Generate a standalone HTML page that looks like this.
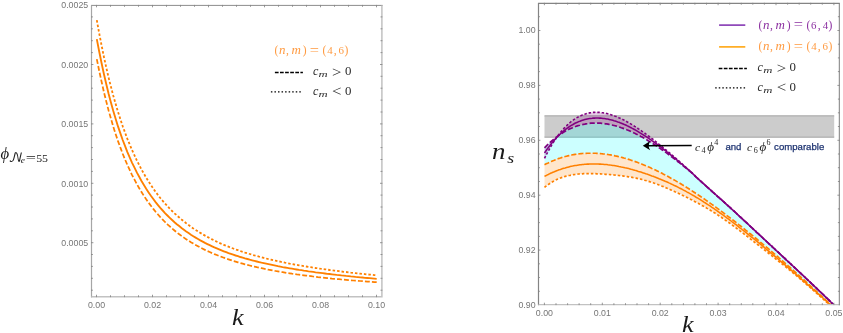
<!DOCTYPE html>
<html><head><meta charset="utf-8"><title>plots</title>
<style>
html,body{margin:0;padding:0;background:#fff}
svg{display:block}
.tk{font-family:"Liberation Sans",sans-serif;font-size:8.8px;fill:#757575}
.fr{fill:none;stroke:#c0c0c0;stroke-width:1.5}
.ti{stroke:#858585;stroke-width:0.85;fill:none}
.ms{font-family:"Liberation Serif",serif}
.mi{font-family:"Liberation Serif",serif;font-style:italic}
.sf{font-family:"Liberation Sans",sans-serif}
</style></head><body>
<svg width="843" height="333" viewBox="0 0 843 333">
<rect width="843" height="333" fill="#fff"/>

<g id="left">
<path d="M96.8,59.1 L99.2,70.9 L101.6,81.8 L103.9,92.0 L106.3,101.6 L108.6,110.5 L111.0,118.9 L113.3,126.8 L115.7,134.2 L118.0,141.1 L120.4,147.6 L122.7,153.8 L125.1,159.6 L127.4,165.0 L129.8,170.2 L132.1,175.1 L134.5,179.7 L136.8,184.0 L139.2,188.2 L141.5,192.1 L143.9,195.8 L146.2,199.3 L148.6,202.7 L150.9,205.8 L153.3,208.9 L155.6,211.8 L158.0,214.5 L160.3,217.1 L162.7,219.6 L165.0,222.0 L167.4,224.3 L169.8,226.4 L172.1,228.5 L174.5,230.5 L176.8,232.4 L179.2,234.2 L181.5,235.9 L183.9,237.6 L186.2,239.2 L188.6,240.7 L190.9,242.2 L193.3,243.6 L195.6,244.9 L198.0,246.2 L200.3,247.5 L202.7,248.7 L205.0,249.9 L207.4,251.0 L209.7,252.0 L212.1,253.1 L214.4,254.1 L216.8,255.0 L219.1,256.0 L221.5,256.8 L223.8,257.7 L226.2,258.5 L228.5,259.3 L230.9,260.1 L233.2,260.9 L235.6,261.6 L238.0,262.3 L240.3,263.0 L242.7,263.6 L245.0,264.3 L247.4,264.9 L249.7,265.5 L252.1,266.1 L254.4,266.6 L256.8,267.2 L259.1,267.7 L261.5,268.2 L263.8,268.7 L266.2,269.2 L268.5,269.7 L270.9,270.1 L273.2,270.6 L275.6,271.0 L277.9,271.4 L280.3,271.8 L282.6,272.2 L285.0,272.6 L287.3,273.0 L289.7,273.3 L292.0,273.7 L294.4,274.0 L296.7,274.4 L299.1,274.7 L301.4,275.0 L303.8,275.3 L306.1,275.6 L308.5,275.9 L310.9,276.2 L313.2,276.5 L315.6,276.8 L317.9,277.1 L320.3,277.3 L322.6,277.6 L325.0,277.8 L327.3,278.1 L329.7,278.3 L332.0,278.6 L334.4,278.8 L336.7,279.0 L339.1,279.2 L341.4,279.5 L343.8,279.7 L346.1,279.9 L348.5,280.1 L350.8,280.3 L353.2,280.5 L355.5,280.7 L357.9,280.8 L360.2,281.0 L362.6,281.2 L364.9,281.4 L367.3,281.6 L369.6,281.7 L372.0,281.9 L374.3,282.1 L376.7,282.2" fill="none" stroke="#ff8000" stroke-width="1.75" stroke-dasharray="4.9 2.1"/>
<path d="M96.8,20.2 L99.2,33.3 L101.6,45.5 L103.9,56.9 L106.3,67.6 L108.6,77.6 L111.0,87.0 L113.3,95.8 L115.7,104.1 L118.0,111.9 L120.4,119.2 L122.7,126.2 L125.1,132.7 L127.4,138.9 L129.8,144.7 L132.1,150.2 L134.5,155.4 L136.8,160.4 L139.2,165.0 L141.5,169.5 L143.9,173.7 L146.2,177.7 L148.6,181.5 L150.9,185.1 L153.3,188.6 L155.6,191.9 L158.0,195.0 L160.3,198.0 L162.7,200.8 L165.0,203.5 L167.4,206.1 L169.8,208.6 L172.1,211.0 L174.5,213.3 L176.8,215.4 L179.2,217.5 L181.5,219.5 L183.9,221.4 L186.2,223.3 L188.6,225.1 L190.9,226.7 L193.3,228.4 L195.6,229.9 L198.0,231.4 L200.3,232.9 L202.7,234.3 L205.0,235.6 L207.4,236.9 L209.7,238.2 L212.1,239.4 L214.4,240.5 L216.8,241.7 L219.1,242.8 L221.5,243.8 L223.8,244.8 L226.2,245.8 L228.5,246.7 L230.9,247.7 L233.2,248.5 L235.6,249.4 L238.0,250.2 L240.3,251.0 L242.7,251.8 L245.0,252.6 L247.4,253.3 L249.7,254.0 L252.1,254.7 L254.4,255.4 L256.8,256.0 L259.1,256.7 L261.5,257.3 L263.8,257.9 L266.2,258.5 L268.5,259.1 L270.9,259.6 L273.2,260.2 L275.6,260.7 L277.9,261.2 L280.3,261.7 L282.6,262.2 L285.0,262.7 L287.3,263.1 L289.7,263.6 L292.0,264.0 L294.4,264.5 L296.7,264.9 L299.1,265.3 L301.4,265.7 L303.8,266.1 L306.1,266.5 L308.5,266.9 L310.9,267.2 L313.2,267.6 L315.6,268.0 L317.9,268.3 L320.3,268.7 L322.6,269.0 L325.0,269.3 L327.3,269.6 L329.7,270.0 L332.0,270.3 L334.4,270.6 L336.7,270.9 L339.1,271.2 L341.4,271.5 L343.8,271.8 L346.1,272.0 L348.5,272.3 L350.8,272.6 L353.2,272.8 L355.5,273.1 L357.9,273.4 L360.2,273.6 L362.6,273.9 L364.9,274.1 L367.3,274.4 L369.6,274.6 L372.0,274.8 L374.3,275.1 L376.7,275.3" fill="none" stroke="#ff8000" stroke-width="1.8" stroke-dasharray="2.5 2.0"/>
<path d="M96.8,39.1 L99.2,51.5 L101.6,63.2 L103.9,74.0 L106.3,84.2 L108.6,93.8 L111.0,102.7 L113.3,111.1 L115.7,119.0 L118.0,126.4 L120.4,133.4 L122.7,140.0 L125.1,146.2 L127.4,152.1 L129.8,157.6 L132.1,162.8 L134.5,167.7 L136.8,172.4 L139.2,176.8 L141.5,181.0 L143.9,185.0 L146.2,188.8 L148.6,192.4 L150.9,195.8 L153.3,199.0 L155.6,202.1 L158.0,205.1 L160.3,207.9 L162.7,210.5 L165.0,213.1 L167.4,215.5 L169.8,217.8 L172.1,220.0 L174.5,222.2 L176.8,224.2 L179.2,226.1 L181.5,228.0 L183.9,229.8 L186.2,231.5 L188.6,233.1 L190.9,234.7 L193.3,236.2 L195.6,237.6 L198.0,239.0 L200.3,240.4 L202.7,241.6 L205.0,242.9 L207.4,244.1 L209.7,245.2 L212.1,246.3 L214.4,247.4 L216.8,248.4 L219.1,249.4 L221.5,250.4 L223.8,251.3 L226.2,252.2 L228.5,253.1 L230.9,253.9 L233.2,254.7 L235.6,255.5 L238.0,256.2 L240.3,257.0 L242.7,257.7 L245.0,258.4 L247.4,259.0 L249.7,259.7 L252.1,260.3 L254.4,260.9 L256.8,261.5 L259.1,262.1 L261.5,262.7 L263.8,263.2 L266.2,263.7 L268.5,264.2 L270.9,264.7 L273.2,265.2 L275.6,265.7 L277.9,266.2 L280.3,266.6 L282.6,267.1 L285.0,267.5 L287.3,267.9 L289.7,268.3 L292.0,268.7 L294.4,269.1 L296.7,269.5 L299.1,269.9 L301.4,270.2 L303.8,270.6 L306.1,270.9 L308.5,271.3 L310.9,271.6 L313.2,271.9 L315.6,272.3 L317.9,272.6 L320.3,272.9 L322.6,273.2 L325.0,273.5 L327.3,273.8 L329.7,274.0 L332.0,274.3 L334.4,274.6 L336.7,274.9 L339.1,275.1 L341.4,275.4 L343.8,275.6 L346.1,275.9 L348.5,276.1 L350.8,276.4 L353.2,276.6 L355.5,276.9 L357.9,277.1 L360.2,277.3 L362.6,277.5 L364.9,277.8 L367.3,278.0 L369.6,278.2 L372.0,278.4 L374.3,278.6 L376.7,278.8" fill="none" stroke="#ff8000" stroke-width="1.85"/>
<path d="M91.0,5.4H382.65" stroke="#8c8c8c" stroke-width="1" fill="none"/>
<path d="M91.5,5.4V297.4" stroke="#a6a6a6" stroke-width="1.2" fill="none"/>
<path d="M91.5,296.65H382.65M381.9,5.4V296.65" stroke="#c2c2c2" stroke-width="1.5" fill="none"/>
<path class="ti" d="M96.5,297.15v-2.4M96.5,4.9v2.4M110.5,297.15v-1.9M110.5,4.9v1.9M124.5,297.15v-1.9M124.5,4.9v1.9M138.5,297.15v-1.9M138.5,4.9v1.9M152.5,297.15v-2.4M152.5,4.9v2.4M166.5,297.15v-1.9M166.5,4.9v1.9M180.5,297.15v-1.9M180.5,4.9v1.9M194.5,297.15v-1.9M194.5,4.9v1.9M208.5,297.15v-2.4M208.5,4.9v2.4M222.5,297.15v-1.9M222.5,4.9v1.9M236.5,297.15v-1.9M236.5,4.9v1.9M250.5,297.15v-1.9M250.5,4.9v1.9M264.5,297.15v-2.4M264.5,4.9v2.4M278.5,297.15v-1.9M278.5,4.9v1.9M292.5,297.15v-1.9M292.5,4.9v1.9M306.5,297.15v-1.9M306.5,4.9v1.9M320.5,297.15v-2.4M320.5,4.9v2.4M334.5,297.15v-1.9M334.5,4.9v1.9M348.5,297.15v-1.9M348.5,4.9v1.9M362.5,297.15v-1.9M362.5,4.9v1.9M376.5,297.15v-2.4M376.5,4.9v2.4M91.0,290.2h1.9M382.4,290.2h-1.9M91.0,278.3h1.9M382.4,278.3h-1.9M91.0,266.4h1.9M382.4,266.4h-1.9M91.0,254.5h1.9M382.4,254.5h-1.9M91.0,242.7h2.4M382.4,242.7h-2.4M91.0,230.8h1.9M382.4,230.8h-1.9M91.0,218.9h1.9M382.4,218.9h-1.9M91.0,207.0h1.9M382.4,207.0h-1.9M91.0,195.1h1.9M382.4,195.1h-1.9M91.0,183.3h2.4M382.4,183.3h-2.4M91.0,171.4h1.9M382.4,171.4h-1.9M91.0,159.5h1.9M382.4,159.5h-1.9M91.0,147.6h1.9M382.4,147.6h-1.9M91.0,135.7h1.9M382.4,135.7h-1.9M91.0,123.9h2.4M382.4,123.9h-2.4M91.0,112.0h1.9M382.4,112.0h-1.9M91.0,100.1h1.9M382.4,100.1h-1.9M91.0,88.2h1.9M382.4,88.2h-1.9M91.0,76.3h1.9M382.4,76.3h-1.9M91.0,64.5h2.4M382.4,64.5h-2.4M91.0,52.6h1.9M382.4,52.6h-1.9M91.0,40.7h1.9M382.4,40.7h-1.9M91.0,28.8h1.9M382.4,28.8h-1.9M91.0,16.9h1.9M382.4,16.9h-1.9"/>
<text class="tk" x="96.5" y="308.2" text-anchor="middle">0.00</text>
<text class="tk" x="152.5" y="308.2" text-anchor="middle">0.02</text>
<text class="tk" x="208.5" y="308.2" text-anchor="middle">0.04</text>
<text class="tk" x="264.5" y="308.2" text-anchor="middle">0.06</text>
<text class="tk" x="320.5" y="308.2" text-anchor="middle">0.08</text>
<text class="tk" x="376.5" y="308.2" text-anchor="middle">0.10</text>
<text class="tk" x="88.2" y="245.8" text-anchor="end">0.0005</text>
<text class="tk" x="88.2" y="186.5" text-anchor="end">0.0010</text>
<text class="tk" x="88.2" y="127.1" text-anchor="end">0.0015</text>
<text class="tk" x="88.2" y="67.7" text-anchor="end">0.0020</text>
<text class="tk" x="88.2" y="8.3" text-anchor="end">0.0025</text>
<text class="mi" transform="translate(232.12,324.70) scale(1.1,1)" font-size="23.8" fill="#1a1a1a">k</text>
<text class="mi" transform="translate(0.48,159.00) scale(1.05,1)" font-size="15.9" fill="#1a1a1a">ϕ</text>
<text x="8.6" y="161.9" font-size="13" fill="#1a1a1a" font-family="'DejaVu Math TeX Gyre','DejaVu Serif',serif">𝒩</text>
<text class="mi" transform="translate(20.86,163.40) scale(1.1,1)" font-size="8.6" fill="#1a1a1a">e</text>
<text class="ms" transform="translate(25.63,162.00) scale(1.45,1)" font-size="12.5" fill="#1a1a1a">=</text>
<text class="ms" transform="translate(36.32,161.90) scale(1.05,1)" font-size="11.3" fill="#1a1a1a">5</text><text class="ms" transform="translate(42.12,161.90) scale(1.05,1)" font-size="11.3" fill="#1a1a1a">5</text>
<text class="ms" x="274.52" y="54.30" font-size="11.5" fill="#ff9a40">(</text><text class="mi" transform="translate(279.09,54.10) scale(1.12,1)" font-size="11.6" fill="#ff9a40">n</text><text class="ms" x="285.99" y="54.10" font-size="11.6" fill="#ff9a40">,</text><text class="mi" transform="translate(291.45,54.10) scale(1.12,1)" font-size="11.6" fill="#ff9a40">m</text><text class="ms" x="302.65" y="54.30" font-size="11.5" fill="#ff9a40">)</text><text class="ms" transform="translate(309.79,54.90) scale(1.2,1)" font-size="13.6" fill="#ff9a40">=</text><text class="ms" x="322.52" y="54.30" font-size="11.5" fill="#ff9a40">(</text><text class="ms" x="327.15" y="54.10" font-size="10.9" fill="#ff9a40">4</text><text class="ms" x="333.69" y="54.10" font-size="11.6" fill="#ff9a40">,</text><text class="ms" x="338.60" y="54.10" font-size="10.9" fill="#ff9a40">6</text><text class="ms" x="344.55" y="54.30" font-size="11.5" fill="#ff9a40">)</text>
<path d="M274.9,72.5H302.9" stroke="#000" stroke-width="1.7" stroke-dasharray="3.7 1.4" fill="none"/>
<text class="mi" transform="translate(312.98,75.30) scale(1.05,1)" font-size="11.6" fill="#2e2e2e">c</text><text class="mi" transform="translate(318.55,77.10) scale(1.55,1)" font-size="8.2" fill="#2e2e2e">m</text><text class="ms" transform="translate(332.04,76.60) scale(1.15,1)" font-size="14.6" fill="#2e2e2e">&gt;</text><text class="ms" transform="translate(344.88,75.30) scale(1.1,1)" font-size="11.7" fill="#2e2e2e">0</text>
<path d="M270.9,91.9H301.5" stroke="#000" stroke-width="1.3" stroke-dasharray="1.5 2.05" fill="none"/>
<text class="mi" transform="translate(312.98,94.80) scale(1.05,1)" font-size="11.6" fill="#2e2e2e">c</text><text class="mi" transform="translate(318.55,96.60) scale(1.55,1)" font-size="8.2" fill="#2e2e2e">m</text><text class="ms" transform="translate(332.06,96.10) scale(1.15,1)" font-size="14.6" fill="#2e2e2e">&lt;</text><text class="ms" transform="translate(344.88,94.80) scale(1.1,1)" font-size="11.7" fill="#2e2e2e">0</text>
</g>
<g id="right">
<clipPath id="rc"><rect x="538.5" y="3.3" width="300.8" height="301.3"/></clipPath>
<g clip-path="url(#rc)">
<rect x="544.5" y="115.6" width="289.7" height="22.0" fill="#cccccc"/>
<path d="M544.5,115.9H834.2M544.5,137.2H834.2" stroke="#b0b0b0" stroke-width="1.3" fill="none"/>
<path d="M544.5,147.9 L545.7,146.6 L546.9,145.4 L548.2,144.2 L549.4,143.0 L550.6,141.9 L551.8,140.8 L553.0,139.8 L554.3,138.8 L555.5,137.8 L556.7,136.9 L557.9,136.0 L559.1,135.1 L560.4,134.3 L561.6,133.5 L562.8,132.7 L564.0,131.9 L565.2,131.2 L566.5,130.6 L567.7,129.9 L568.9,129.3 L570.1,128.7 L571.3,128.2 L572.6,127.7 L573.8,127.2 L575.0,126.7 L576.2,126.3 L577.4,125.9 L578.7,125.5 L579.9,125.2 L581.1,124.8 L582.3,124.6 L583.5,124.3 L584.7,124.1 L586.0,123.8 L587.2,123.7 L588.4,123.5 L589.6,123.4 L590.8,123.2 L592.1,123.2 L593.3,123.1 L594.5,123.1 L595.7,123.0 L596.9,123.1 L598.2,123.1 L599.4,123.1 L600.6,123.2 L601.8,123.3 L603.0,123.4 L604.3,123.6 L605.5,123.8 L606.7,123.9 L607.9,124.1 L609.1,124.4 L610.4,124.6 L611.6,124.9 L612.8,125.2 L614.0,125.5 L615.2,125.8 L616.5,126.1 L617.7,126.5 L618.9,126.9 L620.1,127.3 L621.3,127.7 L622.6,128.1 L623.8,128.6 L625.0,129.0 L626.2,129.5 L627.4,130.0 L628.7,130.5 L629.9,131.0 L631.1,131.6 L632.3,132.1 L633.5,132.7 L634.8,133.3 L636.0,133.9 L637.2,134.5 L638.4,135.2 L639.6,135.8 L640.9,136.5 L642.1,137.1 L643.3,137.8 L644.5,138.5 L645.7,139.2 L647.0,139.9 L648.2,140.7 L649.4,141.4 L650.6,142.2 L651.8,142.9 L653.1,143.7 L654.3,144.5 L655.5,145.3 L656.7,146.1 L657.9,146.9 L659.1,147.8 L660.4,148.6 L661.6,149.5 L662.8,150.3 L664.0,151.2 L665.2,152.1 L666.5,152.9 L667.7,153.8 L668.9,154.7 L670.1,155.7 L671.3,156.6 L672.6,157.5 L673.8,158.4 L675.0,159.4 L676.2,160.3 L677.4,161.3 L678.7,162.2 L679.9,163.2 L681.1,164.1 L682.3,165.1 L683.5,166.1 L684.8,167.1 L686.0,168.0 L687.2,169.0 L688.4,170.0 L689.6,171.0 L690.9,172.1 L692.1,173.2 L693.3,174.3 L694.5,175.4 L695.7,176.6 L697.0,177.8 L698.2,178.9 L699.4,180.0 L700.6,181.1 L701.8,182.2 L703.1,183.3 L704.3,184.4 L705.5,185.5 L706.7,186.6 L707.9,187.7 L709.2,188.8 L710.4,189.9 L711.6,191.0 L712.8,192.1 L714.0,193.2 L715.3,194.3 L716.5,195.4 L717.7,196.5 L718.9,197.5 L720.1,198.6 L721.4,199.7 L722.6,200.8 L723.8,201.9 L725.0,203.0 L726.2,204.1 L727.4,205.2 L728.7,206.3 L729.9,207.4 L731.1,208.5 L732.3,209.6 L733.5,210.7 L734.8,211.8 L736.0,213.0 L737.2,214.1 L738.4,215.2 L739.6,216.4 L740.9,217.5 L742.1,218.6 L743.3,219.8 L744.5,220.9 L745.7,222.0 L747.0,223.2 L748.2,224.3 L749.4,225.5 L750.6,226.6 L751.8,227.7 L753.1,228.9 L754.3,230.0 L755.5,231.1 L756.7,232.3 L757.9,233.4 L759.2,234.6 L760.4,235.7 L761.6,236.8 L762.8,238.0 L764.0,239.1 L765.3,240.2 L766.5,241.4 L767.7,242.5 L768.9,243.7 L770.1,244.8 L771.4,245.9 L772.6,247.1 L773.8,248.2 L775.0,249.3 L776.2,250.5 L777.5,251.6 L778.7,252.7 L779.9,253.9 L781.1,255.0 L782.3,256.2 L783.6,257.3 L784.8,258.4 L786.0,259.6 L787.2,260.7 L788.4,261.8 L789.7,263.0 L790.9,264.1 L792.1,265.3 L793.3,266.4 L794.5,267.5 L795.8,268.7 L797.0,269.8 L798.2,271.0 L799.4,272.1 L800.6,273.2 L801.8,274.4 L803.1,275.5 L804.3,276.7 L805.5,277.8 L806.7,279.0 L807.9,280.1 L809.2,281.3 L810.4,282.4 L811.6,283.6 L812.8,284.7 L814.0,285.9 L815.3,287.1 L816.5,288.2 L817.7,289.4 L818.9,290.5 L820.1,291.7 L821.4,292.9 L822.6,294.0 L823.8,295.2 L825.0,296.4 L826.2,297.6 L827.5,298.7 L828.7,299.9 L829.9,301.1 L831.1,302.3 L832.3,303.5 L833.6,304.7 L834.8,305.9 L836.0,307.1 L836.0,309.8 L834.8,308.6 L833.6,307.4 L832.3,306.3 L831.1,305.1 L829.9,303.9 L828.7,302.8 L827.5,301.6 L826.2,300.5 L825.0,299.3 L823.8,298.2 L822.6,297.1 L821.4,295.9 L820.1,294.8 L818.9,293.7 L817.7,292.5 L816.5,291.4 L815.3,290.3 L814.0,289.1 L812.8,288.0 L811.6,286.9 L810.4,285.8 L809.2,284.7 L807.9,283.6 L806.7,282.4 L805.5,281.3 L804.3,280.2 L803.1,279.1 L801.8,278.0 L800.6,276.9 L799.4,275.8 L798.2,274.7 L797.0,273.7 L795.8,272.6 L794.5,271.5 L793.3,270.4 L792.1,269.3 L790.9,268.2 L789.7,267.2 L788.4,266.1 L787.2,265.0 L786.0,263.9 L784.8,262.9 L783.6,261.8 L782.3,260.7 L781.1,259.7 L779.9,258.6 L778.7,257.6 L777.5,256.5 L776.2,255.5 L775.0,254.4 L773.8,253.4 L772.6,252.3 L771.4,251.3 L770.1,250.3 L768.9,249.2 L767.7,248.2 L766.5,247.2 L765.3,246.1 L764.0,245.1 L762.8,244.1 L761.6,243.1 L760.4,242.1 L759.2,241.0 L757.9,240.0 L756.7,239.0 L755.5,238.0 L754.3,237.0 L753.1,236.0 L751.8,235.0 L750.6,234.0 L749.4,233.1 L748.2,232.1 L747.0,231.1 L745.7,230.1 L744.5,229.1 L743.3,228.2 L742.1,227.2 L740.9,226.2 L739.6,225.3 L738.4,224.3 L737.2,223.4 L736.0,222.4 L734.8,221.5 L733.5,220.5 L732.3,219.6 L731.1,218.6 L729.9,217.7 L728.7,216.8 L727.4,215.8 L726.2,214.9 L725.0,214.0 L723.8,213.1 L722.6,212.2 L721.4,211.3 L720.1,210.4 L718.9,209.5 L717.7,208.6 L716.5,207.7 L715.3,206.8 L714.0,205.9 L712.8,205.0 L711.6,204.2 L710.4,203.3 L709.2,202.4 L707.9,201.6 L706.7,200.7 L705.5,199.9 L704.3,199.0 L703.1,198.2 L701.8,197.4 L700.6,196.5 L699.4,195.7 L698.2,194.9 L697.0,194.1 L695.7,193.3 L694.5,192.5 L693.3,191.7 L692.1,190.9 L690.9,190.1 L689.6,189.3 L688.4,188.5 L687.2,187.8 L686.0,187.0 L684.8,186.3 L683.5,185.5 L682.3,184.8 L681.1,184.0 L679.9,183.3 L678.7,182.6 L677.4,181.9 L676.2,181.1 L675.0,180.4 L673.8,179.7 L672.6,179.0 L671.3,178.4 L670.1,177.7 L668.9,177.0 L667.7,176.3 L666.5,175.7 L665.2,175.0 L664.0,174.4 L662.8,173.8 L661.6,173.1 L660.4,172.5 L659.1,171.9 L657.9,171.3 L656.7,170.7 L655.5,170.1 L654.3,169.5 L653.1,169.0 L651.8,168.4 L650.6,167.8 L649.4,167.3 L648.2,166.8 L647.0,166.2 L645.7,165.7 L644.5,165.2 L643.3,164.7 L642.1,164.2 L640.9,163.7 L639.6,163.2 L638.4,162.8 L637.2,162.3 L636.0,161.9 L634.8,161.4 L633.5,161.0 L632.3,160.6 L631.1,160.2 L629.9,159.8 L628.7,159.4 L627.4,159.0 L626.2,158.7 L625.0,158.3 L623.8,158.0 L622.6,157.6 L621.3,157.3 L620.1,157.0 L618.9,156.7 L617.7,156.4 L616.5,156.1 L615.2,155.9 L614.0,155.6 L612.8,155.4 L611.6,155.1 L610.4,154.9 L609.1,154.7 L607.9,154.5 L606.7,154.3 L605.5,154.2 L604.3,154.0 L603.0,153.9 L601.8,153.7 L600.6,153.6 L599.4,153.5 L598.2,153.4 L596.9,153.4 L595.7,153.3 L594.5,153.2 L593.3,153.2 L592.1,153.2 L590.8,153.2 L589.6,153.2 L588.4,153.2 L587.2,153.2 L586.0,153.3 L584.7,153.3 L583.5,153.4 L582.3,153.5 L581.1,153.6 L579.9,153.8 L578.7,153.9 L577.4,154.0 L576.2,154.2 L575.0,154.4 L573.8,154.6 L572.6,154.8 L571.3,155.1 L570.1,155.3 L568.9,155.6 L567.7,155.9 L566.5,156.2 L565.2,156.5 L564.0,156.8 L562.8,157.2 L561.6,157.6 L560.4,158.0 L559.1,158.4 L557.9,158.8 L556.7,159.2 L555.5,159.7 L554.3,160.2 L553.0,160.7 L551.8,161.2 L550.6,161.7 L549.4,162.3 L548.2,162.9 L546.9,163.5 L545.7,164.1 L544.5,164.7Z" fill="#00ffff" fill-opacity="0.2" stroke="none"/>
<path d="M544.5,164.7 L545.7,164.1 L546.9,163.5 L548.2,162.9 L549.4,162.3 L550.6,161.7 L551.8,161.2 L553.0,160.7 L554.3,160.2 L555.5,159.7 L556.7,159.2 L557.9,158.8 L559.1,158.4 L560.4,158.0 L561.6,157.6 L562.8,157.2 L564.0,156.8 L565.2,156.5 L566.5,156.2 L567.7,155.9 L568.9,155.6 L570.1,155.3 L571.3,155.1 L572.6,154.8 L573.8,154.6 L575.0,154.4 L576.2,154.2 L577.4,154.0 L578.7,153.9 L579.9,153.8 L581.1,153.6 L582.3,153.5 L583.5,153.4 L584.7,153.3 L586.0,153.3 L587.2,153.2 L588.4,153.2 L589.6,153.2 L590.8,153.2 L592.1,153.2 L593.3,153.2 L594.5,153.2 L595.7,153.3 L596.9,153.4 L598.2,153.4 L599.4,153.5 L600.6,153.6 L601.8,153.7 L603.0,153.9 L604.3,154.0 L605.5,154.2 L606.7,154.3 L607.9,154.5 L609.1,154.7 L610.4,154.9 L611.6,155.1 L612.8,155.4 L614.0,155.6 L615.2,155.9 L616.5,156.1 L617.7,156.4 L618.9,156.7 L620.1,157.0 L621.3,157.3 L622.6,157.6 L623.8,158.0 L625.0,158.3 L626.2,158.7 L627.4,159.0 L628.7,159.4 L629.9,159.8 L631.1,160.2 L632.3,160.6 L633.5,161.0 L634.8,161.4 L636.0,161.9 L637.2,162.3 L638.4,162.8 L639.6,163.2 L640.9,163.7 L642.1,164.2 L643.3,164.7 L644.5,165.2 L645.7,165.7 L647.0,166.2 L648.2,166.8 L649.4,167.3 L650.6,167.8 L651.8,168.4 L653.1,169.0 L654.3,169.5 L655.5,170.1 L656.7,170.7 L657.9,171.3 L659.1,171.9 L660.4,172.5 L661.6,173.1 L662.8,173.8 L664.0,174.4 L665.2,175.0 L666.5,175.7 L667.7,176.3 L668.9,177.0 L670.1,177.7 L671.3,178.4 L672.6,179.0 L673.8,179.7 L675.0,180.4 L676.2,181.1 L677.4,181.9 L678.7,182.6 L679.9,183.3 L681.1,184.0 L682.3,184.8 L683.5,185.5 L684.8,186.3 L686.0,187.0 L687.2,187.8 L688.4,188.5 L689.6,189.3 L690.9,190.1 L692.1,190.9 L693.3,191.7 L694.5,192.5 L695.7,193.3 L697.0,194.1 L698.2,194.9 L699.4,195.7 L700.6,196.5 L701.8,197.4 L703.1,198.2 L704.3,199.0 L705.5,199.9 L706.7,200.7 L707.9,201.6 L709.2,202.4 L710.4,203.3 L711.6,204.2 L712.8,205.0 L714.0,205.9 L715.3,206.8 L716.5,207.7 L717.7,208.6 L718.9,209.5 L720.1,210.4 L721.4,211.3 L722.6,212.2 L723.8,213.1 L725.0,214.0 L726.2,214.9 L727.4,215.8 L728.7,216.8 L729.9,217.7 L731.1,218.6 L732.3,219.6 L733.5,220.5 L734.8,221.5 L736.0,222.4 L737.2,223.4 L738.4,224.3 L739.6,225.3 L740.9,226.2 L742.1,227.2 L743.3,228.2 L744.5,229.1 L745.7,230.1 L747.0,231.1 L748.2,232.1 L749.4,233.1 L750.6,234.0 L751.8,235.0 L753.1,236.0 L754.3,237.0 L755.5,238.0 L756.7,239.0 L757.9,240.0 L759.2,241.0 L760.4,242.1 L761.6,243.1 L762.8,244.1 L764.0,245.1 L765.3,246.1 L766.5,247.2 L767.7,248.2 L768.9,249.2 L770.1,250.3 L771.4,251.3 L772.6,252.3 L773.8,253.4 L775.0,254.4 L776.2,255.5 L777.5,256.5 L778.7,257.6 L779.9,258.6 L781.1,259.7 L782.3,260.7 L783.6,261.8 L784.8,262.9 L786.0,263.9 L787.2,265.0 L788.4,266.1 L789.7,267.2 L790.9,268.2 L792.1,269.3 L793.3,270.4 L794.5,271.5 L795.8,272.6 L797.0,273.7 L798.2,274.7 L799.4,275.8 L800.6,276.9 L801.8,278.0 L803.1,279.1 L804.3,280.2 L805.5,281.3 L806.7,282.4 L807.9,283.6 L809.2,284.7 L810.4,285.8 L811.6,286.9 L812.8,288.0 L814.0,289.1 L815.3,290.3 L816.5,291.4 L817.7,292.5 L818.9,293.7 L820.1,294.8 L821.4,295.9 L822.6,297.1 L823.8,298.2 L825.0,299.3 L826.2,300.5 L827.5,301.6 L828.7,302.8 L829.9,303.9 L831.1,305.1 L832.3,306.3 L833.6,307.4 L834.8,308.6 L836.0,309.8 L836.0,310.3 L834.8,309.3 L833.6,308.2 L832.3,307.2 L831.1,306.1 L829.9,305.0 L828.7,304.0 L827.5,302.9 L826.2,301.8 L825.0,300.7 L823.8,299.6 L822.6,298.6 L821.4,297.5 L820.1,296.4 L818.9,295.3 L817.7,294.2 L816.5,293.1 L815.3,292.0 L814.0,290.9 L812.8,289.9 L811.6,288.8 L810.4,287.7 L809.2,286.6 L807.9,285.6 L806.7,284.5 L805.5,283.5 L804.3,282.4 L803.1,281.4 L801.8,280.3 L800.6,279.3 L799.4,278.2 L798.2,277.2 L797.0,276.2 L795.8,275.2 L794.5,274.1 L793.3,273.1 L792.1,272.1 L790.9,271.1 L789.7,270.1 L788.4,269.1 L787.2,268.1 L786.0,267.1 L784.8,266.1 L783.6,265.2 L782.3,264.2 L781.1,263.2 L779.9,262.2 L778.7,261.3 L777.5,260.3 L776.2,259.3 L775.0,258.3 L773.8,257.4 L772.6,256.4 L771.4,255.4 L770.1,254.5 L768.9,253.5 L767.7,252.5 L766.5,251.6 L765.3,250.6 L764.0,249.6 L762.8,248.7 L761.6,247.7 L760.4,246.8 L759.2,245.8 L757.9,244.8 L756.7,243.9 L755.5,242.9 L754.3,242.0 L753.1,241.0 L751.8,240.0 L750.6,239.1 L749.4,238.1 L748.2,237.2 L747.0,236.2 L745.7,235.3 L744.5,234.4 L743.3,233.4 L742.1,232.5 L740.9,231.5 L739.6,230.6 L738.4,229.7 L737.2,228.8 L736.0,227.8 L734.8,226.9 L733.5,226.0 L732.3,225.1 L731.1,224.2 L729.9,223.3 L728.7,222.5 L727.4,221.6 L726.2,220.7 L725.0,219.9 L723.8,219.0 L722.6,218.2 L721.4,217.3 L720.1,216.5 L718.9,215.7 L717.7,214.9 L716.5,214.1 L715.3,213.3 L714.0,212.6 L712.8,211.8 L711.6,211.1 L710.4,210.3 L709.2,209.6 L707.9,208.9 L706.7,208.1 L705.5,207.4 L704.3,206.7 L703.1,206.0 L701.8,205.4 L700.6,204.7 L699.4,204.0 L698.2,203.3 L697.0,202.7 L695.7,202.0 L694.5,201.4 L693.3,200.8 L692.1,200.1 L690.9,199.5 L689.6,198.9 L688.4,198.2 L687.2,197.6 L686.0,197.0 L684.8,196.4 L683.5,195.8 L682.3,195.2 L681.1,194.6 L679.9,194.1 L678.7,193.5 L677.4,192.9 L676.2,192.3 L675.0,191.8 L673.8,191.2 L672.6,190.6 L671.3,190.1 L670.1,189.6 L668.9,189.0 L667.7,188.5 L666.5,188.0 L665.2,187.5 L664.0,186.9 L662.8,186.4 L661.6,186.0 L660.4,185.5 L659.1,185.0 L657.9,184.5 L656.7,184.1 L655.5,183.6 L654.3,183.2 L653.1,182.8 L651.8,182.4 L650.6,182.0 L649.4,181.6 L648.2,181.2 L647.0,180.9 L645.7,180.5 L644.5,180.2 L643.3,179.8 L642.1,179.5 L640.9,179.2 L639.6,178.9 L638.4,178.7 L637.2,178.4 L636.0,178.1 L634.8,177.9 L633.5,177.7 L632.3,177.4 L631.1,177.2 L629.9,177.0 L628.7,176.8 L627.4,176.6 L626.2,176.4 L625.0,176.3 L623.8,176.1 L622.6,175.9 L621.3,175.8 L620.1,175.6 L618.9,175.5 L617.7,175.4 L616.5,175.2 L615.2,175.1 L614.0,175.0 L612.8,174.9 L611.6,174.8 L610.4,174.6 L609.1,174.5 L607.9,174.4 L606.7,174.3 L605.5,174.3 L604.3,174.2 L603.0,174.1 L601.8,174.0 L600.6,173.9 L599.4,173.9 L598.2,173.8 L596.9,173.8 L595.7,173.7 L594.5,173.7 L593.3,173.7 L592.1,173.6 L590.8,173.6 L589.6,173.6 L588.4,173.6 L587.2,173.6 L586.0,173.6 L584.7,173.7 L583.5,173.7 L582.3,173.8 L581.1,173.9 L579.9,173.9 L578.7,174.0 L577.4,174.2 L576.2,174.3 L575.0,174.5 L573.8,174.6 L572.6,174.8 L571.3,175.0 L570.1,175.3 L568.9,175.5 L567.7,175.8 L566.5,176.1 L565.2,176.4 L564.0,176.8 L562.8,177.2 L561.6,177.6 L560.4,178.0 L559.1,178.5 L557.9,179.0 L556.7,179.6 L555.5,180.2 L554.3,180.8 L553.0,181.5 L551.8,182.2 L550.6,182.9 L549.4,183.7 L548.2,184.6 L546.9,185.5 L545.7,186.4 L544.5,187.4Z" fill="#ff8000" fill-opacity="0.2" stroke="none"/>
<path d="M544.5,158.4 L545.7,156.0 L546.9,153.6 L548.2,151.3 L549.4,149.1 L550.6,147.0 L551.8,144.9 L553.0,142.9 L554.3,141.0 L555.5,139.2 L556.7,137.4 L557.9,135.8 L559.1,134.1 L560.4,132.6 L561.6,131.1 L562.8,129.7 L564.0,128.3 L565.2,127.0 L566.5,125.8 L567.7,124.6 L568.9,123.5 L570.1,122.5 L571.3,121.5 L572.6,120.6 L573.8,119.7 L575.0,118.9 L576.2,118.1 L577.4,117.4 L578.7,116.7 L579.9,116.1 L581.1,115.6 L582.3,115.0 L583.5,114.6 L584.7,114.2 L586.0,113.8 L587.2,113.5 L588.4,113.2 L589.6,112.9 L590.8,112.7 L592.1,112.6 L593.3,112.4 L594.5,112.4 L595.7,112.3 L596.9,112.3 L598.2,112.4 L599.4,112.4 L600.6,112.5 L601.8,112.7 L603.0,112.8 L604.3,113.0 L605.5,113.3 L606.7,113.5 L607.9,113.8 L609.1,114.1 L610.4,114.5 L611.6,114.9 L612.8,115.3 L614.0,115.7 L615.2,116.2 L616.5,116.6 L617.7,117.1 L618.9,117.7 L620.1,118.2 L621.3,118.8 L622.6,119.4 L623.8,120.0 L625.0,120.6 L626.2,121.3 L627.4,122.0 L628.7,122.7 L629.9,123.4 L631.1,124.1 L632.3,124.8 L633.5,125.6 L634.8,126.4 L636.0,127.1 L637.2,127.9 L638.4,128.8 L639.6,129.6 L640.9,130.4 L642.1,131.3 L643.3,132.1 L644.5,133.0 L645.7,133.9 L647.0,134.8 L648.2,135.7 L649.4,136.6 L650.6,137.6 L651.8,138.5 L653.1,139.4 L654.3,140.4 L655.5,141.4 L656.7,142.3 L657.9,143.3 L659.1,144.3 L660.4,145.3 L661.6,146.3 L662.8,147.3 L664.0,148.3 L665.2,149.3 L666.5,150.3 L667.7,151.3 L668.9,152.4 L670.1,153.4 L671.3,154.4 L672.6,155.5 L673.8,156.5 L675.0,157.6 L676.2,158.6 L677.4,159.7 L678.7,160.8 L679.9,161.9 L681.1,163.0 L682.3,164.1 L683.5,165.2 L684.8,166.3 L686.0,167.4 L687.2,168.5 L688.4,169.6 L689.6,170.7 L690.9,171.8 L692.1,172.9 L693.3,174.1 L694.5,175.3 L695.7,176.5 L697.0,177.7 L698.2,178.9 L699.4,180.0 L700.6,181.1 L701.8,182.2 L703.1,183.3 L704.3,184.4 L705.5,185.5 L706.7,186.6 L707.9,187.7 L709.2,188.8 L710.4,189.9 L711.6,191.0 L712.8,192.1 L714.0,193.2 L715.3,194.3 L716.5,195.4 L717.7,196.5 L718.9,197.5 L720.1,198.6 L721.4,199.7 L722.6,200.8 L723.8,201.9 L725.0,203.0 L726.2,204.1 L727.4,205.2 L728.7,206.3 L729.9,207.4 L731.1,208.5 L732.3,209.6 L733.5,210.7 L734.8,211.8 L736.0,213.0 L737.2,214.1 L738.4,215.2 L739.6,216.4 L740.9,217.5 L742.1,218.6 L743.3,219.8 L744.5,220.9 L745.7,222.0 L747.0,223.2 L748.2,224.3 L749.4,225.5 L750.6,226.6 L751.8,227.7 L753.1,228.9 L754.3,230.0 L755.5,231.1 L756.7,232.3 L757.9,233.4 L759.2,234.6 L760.4,235.7 L761.6,236.8 L762.8,238.0 L764.0,239.1 L765.3,240.2 L766.5,241.4 L767.7,242.5 L768.9,243.7 L770.1,244.8 L771.4,245.9 L772.6,247.1 L773.8,248.2 L775.0,249.3 L776.2,250.5 L777.5,251.6 L778.7,252.7 L779.9,253.9 L781.1,255.0 L782.3,256.2 L783.6,257.3 L784.8,258.4 L786.0,259.6 L787.2,260.7 L788.4,261.8 L789.7,263.0 L790.9,264.1 L792.1,265.3 L793.3,266.4 L794.5,267.5 L795.8,268.7 L797.0,269.8 L798.2,271.0 L799.4,272.1 L800.6,273.2 L801.8,274.4 L803.1,275.5 L804.3,276.7 L805.5,277.8 L806.7,279.0 L807.9,280.1 L809.2,281.3 L810.4,282.4 L811.6,283.6 L812.8,284.7 L814.0,285.9 L815.3,287.1 L816.5,288.2 L817.7,289.4 L818.9,290.5 L820.1,291.7 L821.4,292.9 L822.6,294.0 L823.8,295.2 L825.0,296.4 L826.2,297.6 L827.5,298.7 L828.7,299.9 L829.9,301.1 L831.1,302.3 L832.3,303.5 L833.6,304.7 L834.8,305.9 L836.0,307.1 L836.0,307.1 L834.8,305.9 L833.6,304.7 L832.3,303.5 L831.1,302.3 L829.9,301.1 L828.7,299.9 L827.5,298.7 L826.2,297.6 L825.0,296.4 L823.8,295.2 L822.6,294.0 L821.4,292.9 L820.1,291.7 L818.9,290.5 L817.7,289.4 L816.5,288.2 L815.3,287.1 L814.0,285.9 L812.8,284.7 L811.6,283.6 L810.4,282.4 L809.2,281.3 L807.9,280.1 L806.7,279.0 L805.5,277.8 L804.3,276.7 L803.1,275.5 L801.8,274.4 L800.6,273.2 L799.4,272.1 L798.2,271.0 L797.0,269.8 L795.8,268.7 L794.5,267.5 L793.3,266.4 L792.1,265.3 L790.9,264.1 L789.7,263.0 L788.4,261.8 L787.2,260.7 L786.0,259.6 L784.8,258.4 L783.6,257.3 L782.3,256.2 L781.1,255.0 L779.9,253.9 L778.7,252.7 L777.5,251.6 L776.2,250.5 L775.0,249.3 L773.8,248.2 L772.6,247.1 L771.4,245.9 L770.1,244.8 L768.9,243.7 L767.7,242.5 L766.5,241.4 L765.3,240.2 L764.0,239.1 L762.8,238.0 L761.6,236.8 L760.4,235.7 L759.2,234.6 L757.9,233.4 L756.7,232.3 L755.5,231.1 L754.3,230.0 L753.1,228.9 L751.8,227.7 L750.6,226.6 L749.4,225.5 L748.2,224.3 L747.0,223.2 L745.7,222.0 L744.5,220.9 L743.3,219.8 L742.1,218.6 L740.9,217.5 L739.6,216.4 L738.4,215.2 L737.2,214.1 L736.0,213.0 L734.8,211.8 L733.5,210.7 L732.3,209.6 L731.1,208.5 L729.9,207.4 L728.7,206.3 L727.4,205.2 L726.2,204.1 L725.0,203.0 L723.8,201.9 L722.6,200.8 L721.4,199.7 L720.1,198.6 L718.9,197.5 L717.7,196.5 L716.5,195.4 L715.3,194.3 L714.0,193.2 L712.8,192.1 L711.6,191.0 L710.4,189.9 L709.2,188.8 L707.9,187.7 L706.7,186.6 L705.5,185.5 L704.3,184.4 L703.1,183.3 L701.8,182.2 L700.6,181.1 L699.4,180.0 L698.2,178.9 L697.0,177.8 L695.7,176.6 L694.5,175.4 L693.3,174.3 L692.1,173.2 L690.9,172.1 L689.6,171.0 L688.4,170.0 L687.2,169.0 L686.0,168.0 L684.8,167.1 L683.5,166.1 L682.3,165.1 L681.1,164.1 L679.9,163.2 L678.7,162.2 L677.4,161.3 L676.2,160.3 L675.0,159.4 L673.8,158.4 L672.6,157.5 L671.3,156.6 L670.1,155.7 L668.9,154.7 L667.7,153.8 L666.5,152.9 L665.2,152.1 L664.0,151.2 L662.8,150.3 L661.6,149.5 L660.4,148.6 L659.1,147.8 L657.9,146.9 L656.7,146.1 L655.5,145.3 L654.3,144.5 L653.1,143.7 L651.8,142.9 L650.6,142.2 L649.4,141.4 L648.2,140.7 L647.0,139.9 L645.7,139.2 L644.5,138.5 L643.3,137.8 L642.1,137.1 L640.9,136.5 L639.6,135.8 L638.4,135.2 L637.2,134.5 L636.0,133.9 L634.8,133.3 L633.5,132.7 L632.3,132.1 L631.1,131.6 L629.9,131.0 L628.7,130.5 L627.4,130.0 L626.2,129.5 L625.0,129.0 L623.8,128.6 L622.6,128.1 L621.3,127.7 L620.1,127.3 L618.9,126.9 L617.7,126.5 L616.5,126.1 L615.2,125.8 L614.0,125.5 L612.8,125.2 L611.6,124.9 L610.4,124.6 L609.1,124.4 L607.9,124.1 L606.7,123.9 L605.5,123.8 L604.3,123.6 L603.0,123.4 L601.8,123.3 L600.6,123.2 L599.4,123.1 L598.2,123.1 L596.9,123.1 L595.7,123.0 L594.5,123.1 L593.3,123.1 L592.1,123.2 L590.8,123.2 L589.6,123.4 L588.4,123.5 L587.2,123.7 L586.0,123.8 L584.7,124.1 L583.5,124.3 L582.3,124.6 L581.1,124.8 L579.9,125.2 L578.7,125.5 L577.4,125.9 L576.2,126.3 L575.0,126.7 L573.8,127.2 L572.6,127.7 L571.3,128.2 L570.1,128.7 L568.9,129.3 L567.7,129.9 L566.5,130.6 L565.2,131.2 L564.0,131.9 L562.8,132.7 L561.6,133.5 L560.4,134.3 L559.1,135.1 L557.9,136.0 L556.7,136.9 L555.5,137.8 L554.3,138.8 L553.0,139.8 L551.8,140.8 L550.6,141.9 L549.4,143.0 L548.2,144.2 L546.9,145.4 L545.7,146.6 L544.5,147.9Z" fill="#800080" fill-opacity="0.2" stroke="none"/>
<path d="M544.5,164.7 L545.7,164.1 L546.9,163.5 L548.2,162.9 L549.4,162.3 L550.6,161.7 L551.8,161.2 L553.0,160.7 L554.3,160.2 L555.5,159.7 L556.7,159.2 L557.9,158.8 L559.1,158.4 L560.4,158.0 L561.6,157.6 L562.8,157.2 L564.0,156.8 L565.2,156.5 L566.5,156.2 L567.7,155.9 L568.9,155.6 L570.1,155.3 L571.3,155.1 L572.6,154.8 L573.8,154.6 L575.0,154.4 L576.2,154.2 L577.4,154.0 L578.7,153.9 L579.9,153.8 L581.1,153.6 L582.3,153.5 L583.5,153.4 L584.7,153.3 L586.0,153.3 L587.2,153.2 L588.4,153.2 L589.6,153.2 L590.8,153.2 L592.1,153.2 L593.3,153.2 L594.5,153.2 L595.7,153.3 L596.9,153.4 L598.2,153.4 L599.4,153.5 L600.6,153.6 L601.8,153.7 L603.0,153.9 L604.3,154.0 L605.5,154.2 L606.7,154.3 L607.9,154.5 L609.1,154.7 L610.4,154.9 L611.6,155.1 L612.8,155.4 L614.0,155.6 L615.2,155.9 L616.5,156.1 L617.7,156.4 L618.9,156.7 L620.1,157.0 L621.3,157.3 L622.6,157.6 L623.8,158.0 L625.0,158.3 L626.2,158.7 L627.4,159.0 L628.7,159.4 L629.9,159.8 L631.1,160.2 L632.3,160.6 L633.5,161.0 L634.8,161.4 L636.0,161.9 L637.2,162.3 L638.4,162.8 L639.6,163.2 L640.9,163.7 L642.1,164.2 L643.3,164.7 L644.5,165.2 L645.7,165.7 L647.0,166.2 L648.2,166.8 L649.4,167.3 L650.6,167.8 L651.8,168.4 L653.1,169.0 L654.3,169.5 L655.5,170.1 L656.7,170.7 L657.9,171.3 L659.1,171.9 L660.4,172.5 L661.6,173.1 L662.8,173.8 L664.0,174.4 L665.2,175.0 L666.5,175.7 L667.7,176.3 L668.9,177.0 L670.1,177.7 L671.3,178.4 L672.6,179.0 L673.8,179.7 L675.0,180.4 L676.2,181.1 L677.4,181.9 L678.7,182.6 L679.9,183.3 L681.1,184.0 L682.3,184.8 L683.5,185.5 L684.8,186.3 L686.0,187.0 L687.2,187.8 L688.4,188.5 L689.6,189.3 L690.9,190.1 L692.1,190.9 L693.3,191.7 L694.5,192.5 L695.7,193.3 L697.0,194.1 L698.2,194.9 L699.4,195.7 L700.6,196.5 L701.8,197.4 L703.1,198.2 L704.3,199.0 L705.5,199.9 L706.7,200.7 L707.9,201.6 L709.2,202.4 L710.4,203.3 L711.6,204.2 L712.8,205.0 L714.0,205.9 L715.3,206.8 L716.5,207.7 L717.7,208.6 L718.9,209.5 L720.1,210.4 L721.4,211.3 L722.6,212.2 L723.8,213.1 L725.0,214.0 L726.2,214.9 L727.4,215.8 L728.7,216.8 L729.9,217.7 L731.1,218.6 L732.3,219.6 L733.5,220.5 L734.8,221.5 L736.0,222.4 L737.2,223.4 L738.4,224.3 L739.6,225.3 L740.9,226.2 L742.1,227.2 L743.3,228.2 L744.5,229.1 L745.7,230.1 L747.0,231.1 L748.2,232.1 L749.4,233.1 L750.6,234.0 L751.8,235.0 L753.1,236.0 L754.3,237.0 L755.5,238.0 L756.7,239.0 L757.9,240.0 L759.2,241.0 L760.4,242.1 L761.6,243.1 L762.8,244.1 L764.0,245.1 L765.3,246.1 L766.5,247.2 L767.7,248.2 L768.9,249.2 L770.1,250.3 L771.4,251.3 L772.6,252.3 L773.8,253.4 L775.0,254.4 L776.2,255.5 L777.5,256.5 L778.7,257.6 L779.9,258.6 L781.1,259.7 L782.3,260.7 L783.6,261.8 L784.8,262.9 L786.0,263.9 L787.2,265.0 L788.4,266.1 L789.7,267.2 L790.9,268.2 L792.1,269.3 L793.3,270.4 L794.5,271.5 L795.8,272.6 L797.0,273.7 L798.2,274.7 L799.4,275.8 L800.6,276.9 L801.8,278.0 L803.1,279.1 L804.3,280.2 L805.5,281.3 L806.7,282.4 L807.9,283.6 L809.2,284.7 L810.4,285.8 L811.6,286.9 L812.8,288.0 L814.0,289.1 L815.3,290.3 L816.5,291.4 L817.7,292.5 L818.9,293.7 L820.1,294.8 L821.4,295.9 L822.6,297.1 L823.8,298.2 L825.0,299.3 L826.2,300.5 L827.5,301.6 L828.7,302.8 L829.9,303.9 L831.1,305.1 L832.3,306.3 L833.6,307.4 L834.8,308.6 L836.0,309.8" fill="none" stroke="#ff8000" stroke-width="1.65" stroke-dasharray="5.1 2.05"/>
<path d="M544.5,187.4 L545.7,186.4 L546.9,185.5 L548.2,184.6 L549.4,183.7 L550.6,182.9 L551.8,182.2 L553.0,181.5 L554.3,180.8 L555.5,180.2 L556.7,179.6 L557.9,179.0 L559.1,178.5 L560.4,178.0 L561.6,177.6 L562.8,177.2 L564.0,176.8 L565.2,176.4 L566.5,176.1 L567.7,175.8 L568.9,175.5 L570.1,175.3 L571.3,175.0 L572.6,174.8 L573.8,174.6 L575.0,174.5 L576.2,174.3 L577.4,174.2 L578.7,174.0 L579.9,173.9 L581.1,173.9 L582.3,173.8 L583.5,173.7 L584.7,173.7 L586.0,173.6 L587.2,173.6 L588.4,173.6 L589.6,173.6 L590.8,173.6 L592.1,173.6 L593.3,173.7 L594.5,173.7 L595.7,173.7 L596.9,173.8 L598.2,173.8 L599.4,173.9 L600.6,173.9 L601.8,174.0 L603.0,174.1 L604.3,174.2 L605.5,174.3 L606.7,174.3 L607.9,174.4 L609.1,174.5 L610.4,174.6 L611.6,174.8 L612.8,174.9 L614.0,175.0 L615.2,175.1 L616.5,175.2 L617.7,175.4 L618.9,175.5 L620.1,175.6 L621.3,175.8 L622.6,175.9 L623.8,176.1 L625.0,176.3 L626.2,176.4 L627.4,176.6 L628.7,176.8 L629.9,177.0 L631.1,177.2 L632.3,177.4 L633.5,177.7 L634.8,177.9 L636.0,178.1 L637.2,178.4 L638.4,178.7 L639.6,178.9 L640.9,179.2 L642.1,179.5 L643.3,179.8 L644.5,180.2 L645.7,180.5 L647.0,180.9 L648.2,181.2 L649.4,181.6 L650.6,182.0 L651.8,182.4 L653.1,182.8 L654.3,183.2 L655.5,183.6 L656.7,184.1 L657.9,184.5 L659.1,185.0 L660.4,185.5 L661.6,186.0 L662.8,186.4 L664.0,186.9 L665.2,187.5 L666.5,188.0 L667.7,188.5 L668.9,189.0 L670.1,189.6 L671.3,190.1 L672.6,190.6 L673.8,191.2 L675.0,191.8 L676.2,192.3 L677.4,192.9 L678.7,193.5 L679.9,194.1 L681.1,194.6 L682.3,195.2 L683.5,195.8 L684.8,196.4 L686.0,197.0 L687.2,197.6 L688.4,198.2 L689.6,198.9 L690.9,199.5 L692.1,200.1 L693.3,200.8 L694.5,201.4 L695.7,202.0 L697.0,202.7 L698.2,203.3 L699.4,204.0 L700.6,204.7 L701.8,205.4 L703.1,206.0 L704.3,206.7 L705.5,207.4 L706.7,208.1 L707.9,208.9 L709.2,209.6 L710.4,210.3 L711.6,211.1 L712.8,211.8 L714.0,212.6 L715.3,213.3 L716.5,214.1 L717.7,214.9 L718.9,215.7 L720.1,216.5 L721.4,217.3 L722.6,218.2 L723.8,219.0 L725.0,219.9 L726.2,220.7 L727.4,221.6 L728.7,222.5 L729.9,223.3 L731.1,224.2 L732.3,225.1 L733.5,226.0 L734.8,226.9 L736.0,227.8 L737.2,228.8 L738.4,229.7 L739.6,230.6 L740.9,231.5 L742.1,232.5 L743.3,233.4 L744.5,234.4 L745.7,235.3 L747.0,236.2 L748.2,237.2 L749.4,238.1 L750.6,239.1 L751.8,240.0 L753.1,241.0 L754.3,242.0 L755.5,242.9 L756.7,243.9 L757.9,244.8 L759.2,245.8 L760.4,246.8 L761.6,247.7 L762.8,248.7 L764.0,249.6 L765.3,250.6 L766.5,251.6 L767.7,252.5 L768.9,253.5 L770.1,254.5 L771.4,255.4 L772.6,256.4 L773.8,257.4 L775.0,258.3 L776.2,259.3 L777.5,260.3 L778.7,261.3 L779.9,262.2 L781.1,263.2 L782.3,264.2 L783.6,265.2 L784.8,266.1 L786.0,267.1 L787.2,268.1 L788.4,269.1 L789.7,270.1 L790.9,271.1 L792.1,272.1 L793.3,273.1 L794.5,274.1 L795.8,275.2 L797.0,276.2 L798.2,277.2 L799.4,278.2 L800.6,279.3 L801.8,280.3 L803.1,281.4 L804.3,282.4 L805.5,283.5 L806.7,284.5 L807.9,285.6 L809.2,286.6 L810.4,287.7 L811.6,288.8 L812.8,289.9 L814.0,290.9 L815.3,292.0 L816.5,293.1 L817.7,294.2 L818.9,295.3 L820.1,296.4 L821.4,297.5 L822.6,298.6 L823.8,299.6 L825.0,300.7 L826.2,301.8 L827.5,302.9 L828.7,304.0 L829.9,305.0 L831.1,306.1 L832.3,307.2 L833.6,308.2 L834.8,309.3 L836.0,310.3" fill="none" stroke="#ff8000" stroke-width="1.7" stroke-dasharray="2.5 2.0"/>
<path d="M544.5,176.4 L545.7,175.8 L546.9,175.1 L548.2,174.5 L549.4,173.9 L550.6,173.3 L551.8,172.8 L553.0,172.2 L554.3,171.7 L555.5,171.2 L556.7,170.7 L557.9,170.3 L559.1,169.8 L560.4,169.4 L561.6,169.0 L562.8,168.6 L564.0,168.2 L565.2,167.9 L566.5,167.5 L567.7,167.2 L568.9,166.9 L570.1,166.6 L571.3,166.3 L572.6,166.1 L573.8,165.8 L575.0,165.6 L576.2,165.4 L577.4,165.2 L578.7,165.0 L579.9,164.8 L581.1,164.7 L582.3,164.5 L583.5,164.4 L584.7,164.3 L586.0,164.2 L587.2,164.1 L588.4,164.1 L589.6,164.0 L590.8,164.0 L592.1,164.0 L593.3,163.9 L594.5,163.9 L595.7,164.0 L596.9,164.0 L598.2,164.0 L599.4,164.1 L600.6,164.1 L601.8,164.2 L603.0,164.3 L604.3,164.4 L605.5,164.5 L606.7,164.6 L607.9,164.8 L609.1,164.9 L610.4,165.1 L611.6,165.2 L612.8,165.4 L614.0,165.6 L615.2,165.8 L616.5,166.0 L617.7,166.2 L618.9,166.5 L620.1,166.7 L621.3,167.0 L622.6,167.2 L623.8,167.5 L625.0,167.8 L626.2,168.0 L627.4,168.3 L628.7,168.6 L629.9,168.9 L631.1,169.3 L632.3,169.6 L633.5,169.9 L634.8,170.3 L636.0,170.6 L637.2,171.0 L638.4,171.4 L639.6,171.7 L640.9,172.1 L642.1,172.5 L643.3,172.9 L644.5,173.3 L645.7,173.7 L647.0,174.1 L648.2,174.6 L649.4,175.0 L650.6,175.4 L651.8,175.9 L653.1,176.3 L654.3,176.8 L655.5,177.2 L656.7,177.7 L657.9,178.2 L659.1,178.7 L660.4,179.2 L661.6,179.7 L662.8,180.2 L664.0,180.7 L665.2,181.3 L666.5,181.8 L667.7,182.3 L668.9,182.9 L670.1,183.4 L671.3,184.0 L672.6,184.6 L673.8,185.2 L675.0,185.7 L676.2,186.3 L677.4,186.9 L678.7,187.6 L679.9,188.2 L681.1,188.8 L682.3,189.4 L683.5,190.1 L684.8,190.7 L686.0,191.4 L687.2,192.1 L688.4,192.7 L689.6,193.4 L690.9,194.1 L692.1,194.8 L693.3,195.5 L694.5,196.2 L695.7,197.0 L697.0,197.7 L698.2,198.4 L699.4,199.2 L700.6,199.9 L701.8,200.7 L703.1,201.5 L704.3,202.3 L705.5,203.0 L706.7,203.8 L707.9,204.6 L709.2,205.4 L710.4,206.2 L711.6,207.1 L712.8,207.9 L714.0,208.7 L715.3,209.6 L716.5,210.4 L717.7,211.3 L718.9,212.1 L720.1,213.0 L721.4,213.9 L722.6,214.7 L723.8,215.6 L725.0,216.5 L726.2,217.4 L727.4,218.3 L728.7,219.2 L729.9,220.1 L731.1,221.0 L732.3,222.0 L733.5,222.9 L734.8,223.8 L736.0,224.7 L737.2,225.7 L738.4,226.6 L739.6,227.6 L740.9,228.5 L742.1,229.5 L743.3,230.4 L744.5,231.4 L745.7,232.4 L747.0,233.3 L748.2,234.3 L749.4,235.3 L750.6,236.3 L751.8,237.3 L753.1,238.2 L754.3,239.2 L755.5,240.2 L756.7,241.2 L757.9,242.2 L759.2,243.2 L760.4,244.2 L761.6,245.2 L762.8,246.2 L764.0,247.2 L765.3,248.3 L766.5,249.3 L767.7,250.3 L768.9,251.3 L770.1,252.3 L771.4,253.3 L772.6,254.4 L773.8,255.4 L775.0,256.4 L776.2,257.5 L777.5,258.5 L778.7,259.5 L779.9,260.6 L781.1,261.6 L782.3,262.6 L783.6,263.7 L784.8,264.7 L786.0,265.8 L787.2,266.8 L788.4,267.9 L789.7,268.9 L790.9,269.9 L792.1,271.0 L793.3,272.1 L794.5,273.1 L795.8,274.2 L797.0,275.2 L798.2,276.3 L799.4,277.3 L800.6,278.4 L801.8,279.5 L803.1,280.5 L804.3,281.6 L805.5,282.6 L806.7,283.7 L807.9,284.8 L809.2,285.9 L810.4,286.9 L811.6,288.0 L812.8,289.1 L814.0,290.1 L815.3,291.2 L816.5,292.3 L817.7,293.4 L818.9,294.5 L820.1,295.6 L821.4,296.6 L822.6,297.7 L823.8,298.8 L825.0,299.9 L826.2,301.0 L827.5,302.1 L828.7,303.2 L829.9,304.3 L831.1,305.4 L832.3,306.5 L833.6,307.6 L834.8,308.7 L836.0,309.8" fill="none" stroke="#ff8000" stroke-width="1.55"/>
<path d="M544.5,147.9 L545.7,146.6 L546.9,145.4 L548.2,144.2 L549.4,143.0 L550.6,141.9 L551.8,140.8 L553.0,139.8 L554.3,138.8 L555.5,137.8 L556.7,136.9 L557.9,136.0 L559.1,135.1 L560.4,134.3 L561.6,133.5 L562.8,132.7 L564.0,131.9 L565.2,131.2 L566.5,130.6 L567.7,129.9 L568.9,129.3 L570.1,128.7 L571.3,128.2 L572.6,127.7 L573.8,127.2 L575.0,126.7 L576.2,126.3 L577.4,125.9 L578.7,125.5 L579.9,125.2 L581.1,124.8 L582.3,124.6 L583.5,124.3 L584.7,124.1 L586.0,123.8 L587.2,123.7 L588.4,123.5 L589.6,123.4 L590.8,123.2 L592.1,123.2 L593.3,123.1 L594.5,123.1 L595.7,123.0 L596.9,123.1 L598.2,123.1 L599.4,123.1 L600.6,123.2 L601.8,123.3 L603.0,123.4 L604.3,123.6 L605.5,123.8 L606.7,123.9 L607.9,124.1 L609.1,124.4 L610.4,124.6 L611.6,124.9 L612.8,125.2 L614.0,125.5 L615.2,125.8 L616.5,126.1 L617.7,126.5 L618.9,126.9 L620.1,127.3 L621.3,127.7 L622.6,128.1 L623.8,128.6 L625.0,129.0 L626.2,129.5 L627.4,130.0 L628.7,130.5 L629.9,131.0 L631.1,131.6 L632.3,132.1 L633.5,132.7 L634.8,133.3 L636.0,133.9 L637.2,134.5 L638.4,135.2 L639.6,135.8 L640.9,136.5 L642.1,137.1 L643.3,137.8 L644.5,138.5 L645.7,139.2 L647.0,139.9 L648.2,140.7 L649.4,141.4 L650.6,142.2 L651.8,142.9 L653.1,143.7 L654.3,144.5 L655.5,145.3 L656.7,146.1 L657.9,146.9 L659.1,147.8 L660.4,148.6 L661.6,149.5 L662.8,150.3 L664.0,151.2 L665.2,152.1 L666.5,152.9 L667.7,153.8 L668.9,154.7 L670.1,155.7 L671.3,156.6 L672.6,157.5 L673.8,158.4 L675.0,159.4 L676.2,160.3 L677.4,161.3 L678.7,162.2 L679.9,163.2 L681.1,164.1 L682.3,165.1 L683.5,166.1 L684.8,167.1 L686.0,168.0 L687.2,169.0 L688.4,170.0 L689.6,171.0 L690.9,172.1 L692.1,173.2 L693.3,174.3 L694.5,175.4 L695.7,176.6 L697.0,177.8 L698.2,178.9 L699.4,180.0 L700.6,181.1 L701.8,182.2 L703.1,183.3 L704.3,184.4 L705.5,185.5 L706.7,186.6 L707.9,187.7 L709.2,188.8 L710.4,189.9 L711.6,191.0 L712.8,192.1 L714.0,193.2 L715.3,194.3 L716.5,195.4 L717.7,196.5 L718.9,197.5 L720.1,198.6 L721.4,199.7 L722.6,200.8 L723.8,201.9 L725.0,203.0 L726.2,204.1 L727.4,205.2 L728.7,206.3 L729.9,207.4 L731.1,208.5 L732.3,209.6 L733.5,210.7 L734.8,211.8 L736.0,213.0 L737.2,214.1 L738.4,215.2 L739.6,216.4 L740.9,217.5 L742.1,218.6 L743.3,219.8 L744.5,220.9 L745.7,222.0 L747.0,223.2 L748.2,224.3 L749.4,225.5 L750.6,226.6 L751.8,227.7 L753.1,228.9 L754.3,230.0 L755.5,231.1 L756.7,232.3 L757.9,233.4 L759.2,234.6 L760.4,235.7 L761.6,236.8 L762.8,238.0 L764.0,239.1 L765.3,240.2 L766.5,241.4 L767.7,242.5 L768.9,243.7 L770.1,244.8 L771.4,245.9 L772.6,247.1 L773.8,248.2 L775.0,249.3 L776.2,250.5 L777.5,251.6 L778.7,252.7 L779.9,253.9 L781.1,255.0 L782.3,256.2 L783.6,257.3 L784.8,258.4 L786.0,259.6 L787.2,260.7 L788.4,261.8 L789.7,263.0 L790.9,264.1 L792.1,265.3 L793.3,266.4 L794.5,267.5 L795.8,268.7 L797.0,269.8 L798.2,271.0 L799.4,272.1 L800.6,273.2 L801.8,274.4 L803.1,275.5 L804.3,276.7 L805.5,277.8 L806.7,279.0 L807.9,280.1 L809.2,281.3 L810.4,282.4 L811.6,283.6 L812.8,284.7 L814.0,285.9 L815.3,287.1 L816.5,288.2 L817.7,289.4 L818.9,290.5 L820.1,291.7 L821.4,292.9 L822.6,294.0 L823.8,295.2 L825.0,296.4 L826.2,297.6 L827.5,298.7 L828.7,299.9 L829.9,301.1 L831.1,302.3 L832.3,303.5 L833.6,304.7 L834.8,305.9 L836.0,307.1" fill="none" stroke="#800080" stroke-width="1.7" stroke-dasharray="5.2 2.3"/>
<path d="M544.5,158.4 L545.7,156.0 L546.9,153.6 L548.2,151.3 L549.4,149.1 L550.6,147.0 L551.8,144.9 L553.0,142.9 L554.3,141.0 L555.5,139.2 L556.7,137.4 L557.9,135.8 L559.1,134.1 L560.4,132.6 L561.6,131.1 L562.8,129.7 L564.0,128.3 L565.2,127.0 L566.5,125.8 L567.7,124.6 L568.9,123.5 L570.1,122.5 L571.3,121.5 L572.6,120.6 L573.8,119.7 L575.0,118.9 L576.2,118.1 L577.4,117.4 L578.7,116.7 L579.9,116.1 L581.1,115.6 L582.3,115.0 L583.5,114.6 L584.7,114.2 L586.0,113.8 L587.2,113.5 L588.4,113.2 L589.6,112.9 L590.8,112.7 L592.1,112.6 L593.3,112.4 L594.5,112.4 L595.7,112.3 L596.9,112.3 L598.2,112.4 L599.4,112.4 L600.6,112.5 L601.8,112.7 L603.0,112.8 L604.3,113.0 L605.5,113.3 L606.7,113.5 L607.9,113.8 L609.1,114.1 L610.4,114.5 L611.6,114.9 L612.8,115.3 L614.0,115.7 L615.2,116.2 L616.5,116.6 L617.7,117.1 L618.9,117.7 L620.1,118.2 L621.3,118.8 L622.6,119.4 L623.8,120.0 L625.0,120.6 L626.2,121.3 L627.4,122.0 L628.7,122.7 L629.9,123.4 L631.1,124.1 L632.3,124.8 L633.5,125.6 L634.8,126.4 L636.0,127.1 L637.2,127.9 L638.4,128.8 L639.6,129.6 L640.9,130.4 L642.1,131.3 L643.3,132.1 L644.5,133.0 L645.7,133.9 L647.0,134.8 L648.2,135.7 L649.4,136.6 L650.6,137.6 L651.8,138.5 L653.1,139.4 L654.3,140.4 L655.5,141.4 L656.7,142.3 L657.9,143.3 L659.1,144.3 L660.4,145.3 L661.6,146.3 L662.8,147.3 L664.0,148.3 L665.2,149.3 L666.5,150.3 L667.7,151.3 L668.9,152.4 L670.1,153.4 L671.3,154.4 L672.6,155.5 L673.8,156.5 L675.0,157.6 L676.2,158.6 L677.4,159.7 L678.7,160.8 L679.9,161.9 L681.1,163.0 L682.3,164.1 L683.5,165.2 L684.8,166.3 L686.0,167.4 L687.2,168.5 L688.4,169.6 L689.6,170.7 L690.9,171.8 L692.1,172.9 L693.3,174.1 L694.5,175.3 L695.7,176.5 L697.0,177.7 L698.2,178.9 L699.4,180.0 L700.6,181.1 L701.8,182.2 L703.1,183.3 L704.3,184.4 L705.5,185.5 L706.7,186.6 L707.9,187.7 L709.2,188.8 L710.4,189.9 L711.6,191.0 L712.8,192.1 L714.0,193.2 L715.3,194.3 L716.5,195.4 L717.7,196.5 L718.9,197.5 L720.1,198.6 L721.4,199.7 L722.6,200.8 L723.8,201.9 L725.0,203.0 L726.2,204.1 L727.4,205.2 L728.7,206.3 L729.9,207.4 L731.1,208.5 L732.3,209.6 L733.5,210.7 L734.8,211.8 L736.0,213.0 L737.2,214.1 L738.4,215.2 L739.6,216.4 L740.9,217.5 L742.1,218.6 L743.3,219.8 L744.5,220.9 L745.7,222.0 L747.0,223.2 L748.2,224.3 L749.4,225.5 L750.6,226.6 L751.8,227.7 L753.1,228.9 L754.3,230.0 L755.5,231.1 L756.7,232.3 L757.9,233.4 L759.2,234.6 L760.4,235.7 L761.6,236.8 L762.8,238.0 L764.0,239.1 L765.3,240.2 L766.5,241.4 L767.7,242.5 L768.9,243.7 L770.1,244.8 L771.4,245.9 L772.6,247.1 L773.8,248.2 L775.0,249.3 L776.2,250.5 L777.5,251.6 L778.7,252.7 L779.9,253.9 L781.1,255.0 L782.3,256.2 L783.6,257.3 L784.8,258.4 L786.0,259.6 L787.2,260.7 L788.4,261.8 L789.7,263.0 L790.9,264.1 L792.1,265.3 L793.3,266.4 L794.5,267.5 L795.8,268.7 L797.0,269.8 L798.2,271.0 L799.4,272.1 L800.6,273.2 L801.8,274.4 L803.1,275.5 L804.3,276.7 L805.5,277.8 L806.7,279.0 L807.9,280.1 L809.2,281.3 L810.4,282.4 L811.6,283.6 L812.8,284.7 L814.0,285.9 L815.3,287.1 L816.5,288.2 L817.7,289.4 L818.9,290.5 L820.1,291.7 L821.4,292.9 L822.6,294.0 L823.8,295.2 L825.0,296.4 L826.2,297.6 L827.5,298.7 L828.7,299.9 L829.9,301.1 L831.1,302.3 L832.3,303.5 L833.6,304.7 L834.8,305.9 L836.0,307.1" fill="none" stroke="#800080" stroke-width="1.6" stroke-dasharray="2.5 1.86"/>
<path d="M544.5,153.0 L545.7,151.2 L546.9,149.5 L548.2,147.8 L549.4,146.2 L550.6,144.6 L551.8,143.1 L553.0,141.6 L554.3,140.2 L555.5,138.8 L556.7,137.5 L557.9,136.2 L559.1,135.0 L560.4,133.9 L561.6,132.7 L562.8,131.7 L564.0,130.6 L565.2,129.7 L566.5,128.7 L567.7,127.8 L568.9,127.0 L570.1,126.2 L571.3,125.4 L572.6,124.7 L573.8,124.0 L575.0,123.3 L576.2,122.7 L577.4,122.2 L578.7,121.6 L579.9,121.2 L581.1,120.7 L582.3,120.3 L583.5,119.9 L584.7,119.6 L586.0,119.3 L587.2,119.0 L588.4,118.8 L589.6,118.6 L590.8,118.4 L592.1,118.3 L593.3,118.1 L594.5,118.1 L595.7,118.0 L596.9,118.0 L598.2,118.0 L599.4,118.1 L600.6,118.1 L601.8,118.2 L603.0,118.4 L604.3,118.5 L605.5,118.7 L606.7,118.9 L607.9,119.1 L609.1,119.4 L610.4,119.7 L611.6,120.0 L612.8,120.3 L614.0,120.7 L615.2,121.0 L616.5,121.4 L617.7,121.9 L618.9,122.3 L620.1,122.8 L621.3,123.2 L622.6,123.7 L623.8,124.3 L625.0,124.8 L626.2,125.3 L627.4,125.9 L628.7,126.5 L629.9,127.1 L631.1,127.7 L632.3,128.4 L633.5,129.0 L634.8,129.7 L636.0,130.4 L637.2,131.1 L638.4,131.8 L639.6,132.6 L640.9,133.3 L642.1,134.1 L643.3,134.8 L644.5,135.6 L645.7,136.4 L647.0,137.2 L648.2,138.0 L649.4,138.9 L650.6,139.7 L651.8,140.6 L653.1,141.4 L654.3,142.3 L655.5,143.2 L656.7,144.1 L657.9,145.0 L659.1,145.9 L660.4,146.8 L661.6,147.7 L662.8,148.7 L664.0,149.6 L665.2,150.5 L666.5,151.5 L667.7,152.5 L668.9,153.4 L670.1,154.4 L671.3,155.4 L672.6,156.4 L673.8,157.4 L675.0,158.4 L676.2,159.4 L677.4,160.4 L678.7,161.4 L679.9,162.5 L681.1,163.5 L682.3,164.5 L683.5,165.6 L684.8,166.6 L686.0,167.7 L687.2,168.7 L688.4,169.8 L689.6,170.8 L690.9,171.9 L692.1,173.0 L693.3,174.2 L694.5,175.4 L695.7,176.6 L697.0,177.7 L698.2,178.9 L699.4,180.0 L700.6,181.1 L701.8,182.2 L703.1,183.3 L704.3,184.4 L705.5,185.5 L706.7,186.6 L707.9,187.7 L709.2,188.8 L710.4,189.9 L711.6,191.0 L712.8,192.1 L714.0,193.2 L715.3,194.3 L716.5,195.4 L717.7,196.5 L718.9,197.5 L720.1,198.6 L721.4,199.7 L722.6,200.8 L723.8,201.9 L725.0,203.0 L726.2,204.1 L727.4,205.2 L728.7,206.3 L729.9,207.4 L731.1,208.5 L732.3,209.6 L733.5,210.7 L734.8,211.8 L736.0,213.0 L737.2,214.1 L738.4,215.2 L739.6,216.4 L740.9,217.5 L742.1,218.6 L743.3,219.8 L744.5,220.9 L745.7,222.0 L747.0,223.2 L748.2,224.3 L749.4,225.5 L750.6,226.6 L751.8,227.7 L753.1,228.9 L754.3,230.0 L755.5,231.1 L756.7,232.3 L757.9,233.4 L759.2,234.6 L760.4,235.7 L761.6,236.8 L762.8,238.0 L764.0,239.1 L765.3,240.2 L766.5,241.4 L767.7,242.5 L768.9,243.7 L770.1,244.8 L771.4,245.9 L772.6,247.1 L773.8,248.2 L775.0,249.3 L776.2,250.5 L777.5,251.6 L778.7,252.7 L779.9,253.9 L781.1,255.0 L782.3,256.2 L783.6,257.3 L784.8,258.4 L786.0,259.6 L787.2,260.7 L788.4,261.8 L789.7,263.0 L790.9,264.1 L792.1,265.3 L793.3,266.4 L794.5,267.5 L795.8,268.7 L797.0,269.8 L798.2,271.0 L799.4,272.1 L800.6,273.2 L801.8,274.4 L803.1,275.5 L804.3,276.7 L805.5,277.8 L806.7,279.0 L807.9,280.1 L809.2,281.3 L810.4,282.4 L811.6,283.6 L812.8,284.7 L814.0,285.9 L815.3,287.1 L816.5,288.2 L817.7,289.4 L818.9,290.5 L820.1,291.7 L821.4,292.9 L822.6,294.0 L823.8,295.2 L825.0,296.4 L826.2,297.6 L827.5,298.7 L828.7,299.9 L829.9,301.1 L831.1,302.3 L832.3,303.5 L833.6,304.7 L834.8,305.9 L836.0,307.1" fill="none" stroke="#800080" stroke-width="1.55"/>
</g>
<path d="M537.9,3.3H839.8M538.5,3.3V305.3" stroke="#848484" stroke-width="1.2" fill="none"/>
<path d="M538.5,304.6H839.8" stroke="#c2c2c2" stroke-width="1.4" fill="none"/>
<path d="M839.3,3.3V305.3" stroke="#7c7c7c" stroke-width="1" fill="none"/>
<path class="ti" d="M544.4,305.1v-2.4M544.4,2.8v2.4M556.0,305.1v-1.9M556.0,2.8v1.9M567.6,305.1v-1.9M567.6,2.8v1.9M579.1,305.1v-1.9M579.1,2.8v1.9M590.7,305.1v-1.9M590.7,2.8v1.9M602.3,305.1v-2.4M602.3,2.8v2.4M613.9,305.1v-1.9M613.9,2.8v1.9M625.5,305.1v-1.9M625.5,2.8v1.9M637.0,305.1v-1.9M637.0,2.8v1.9M648.6,305.1v-1.9M648.6,2.8v1.9M660.2,305.1v-2.4M660.2,2.8v2.4M671.8,305.1v-1.9M671.8,2.8v1.9M683.4,305.1v-1.9M683.4,2.8v1.9M694.9,305.1v-1.9M694.9,2.8v1.9M706.5,305.1v-1.9M706.5,2.8v1.9M718.1,305.1v-2.4M718.1,2.8v2.4M729.7,305.1v-1.9M729.7,2.8v1.9M741.3,305.1v-1.9M741.3,2.8v1.9M752.8,305.1v-1.9M752.8,2.8v1.9M764.4,305.1v-1.9M764.4,2.8v1.9M776.0,305.1v-2.4M776.0,2.8v2.4M787.6,305.1v-1.9M787.6,2.8v1.9M799.2,305.1v-1.9M799.2,2.8v1.9M810.7,305.1v-1.9M810.7,2.8v1.9M822.3,305.1v-1.9M822.3,2.8v1.9M833.9,305.1v-2.4M833.9,2.8v2.4M538.0,16.7h1.9M839.8,16.7h-1.9M538.0,30.5h2.4M839.8,30.5h-2.4M538.0,44.2h1.9M839.8,44.2h-1.9M538.0,57.9h1.9M839.8,57.9h-1.9M538.0,71.6h1.9M839.8,71.6h-1.9M538.0,85.4h2.4M839.8,85.4h-2.4M538.0,99.1h1.9M839.8,99.1h-1.9M538.0,112.8h1.9M839.8,112.8h-1.9M538.0,126.5h1.9M839.8,126.5h-1.9M538.0,140.3h2.4M839.8,140.3h-2.4M538.0,154.0h1.9M839.8,154.0h-1.9M538.0,167.7h1.9M839.8,167.7h-1.9M538.0,181.5h1.9M839.8,181.5h-1.9M538.0,195.2h2.4M839.8,195.2h-2.4M538.0,208.9h1.9M839.8,208.9h-1.9M538.0,222.6h1.9M839.8,222.6h-1.9M538.0,236.4h1.9M839.8,236.4h-1.9M538.0,250.1h2.4M839.8,250.1h-2.4M538.0,263.8h1.9M839.8,263.8h-1.9M538.0,277.5h1.9M839.8,277.5h-1.9M538.0,291.3h1.9M839.8,291.3h-1.9"/>
<text class="tk" x="544.4" y="315.5" text-anchor="middle">0.00</text>
<text class="tk" x="602.3" y="315.5" text-anchor="middle">0.01</text>
<text class="tk" x="660.2" y="315.5" text-anchor="middle">0.02</text>
<text class="tk" x="718.1" y="315.5" text-anchor="middle">0.03</text>
<text class="tk" x="776.0" y="315.5" text-anchor="middle">0.04</text>
<text class="tk" x="833.9" y="315.5" text-anchor="middle">0.05</text>
<text class="tk" x="535.6" y="33.3" text-anchor="end">1.00</text>
<text class="tk" x="535.6" y="88.2" text-anchor="end">0.98</text>
<text class="tk" x="535.6" y="143.1" text-anchor="end">0.96</text>
<text class="tk" x="535.6" y="198.0" text-anchor="end">0.94</text>
<text class="tk" x="535.6" y="252.9" text-anchor="end">0.92</text>
<text class="tk" x="535.6" y="307.8" text-anchor="end">0.90</text>
<text class="mi" transform="translate(682.12,332.20) scale(1.1,1)" font-size="23.8" fill="#1a1a1a">k</text>
<text class="mi" transform="translate(492.01,159.40) scale(1.2,1)" font-size="22.4" fill="#1a1a1a">n</text><text class="mi" transform="translate(507.32,162.90) scale(1.3,1)" font-size="13.6" fill="#1a1a1a">s</text>
<path d="M719.1,25.1H745.3" stroke="#7c2aae" stroke-width="1.5" fill="none"/>
<text class="ms" x="758.52" y="28.80" font-size="11.5" fill="#8b2fa0">(</text><text class="mi" transform="translate(763.09,28.60) scale(1.12,1)" font-size="11.6" fill="#8b2fa0">n</text><text class="ms" x="769.99" y="28.60" font-size="11.6" fill="#8b2fa0">,</text><text class="mi" transform="translate(775.45,28.60) scale(1.12,1)" font-size="11.6" fill="#8b2fa0">m</text><text class="ms" x="786.65" y="28.80" font-size="11.5" fill="#8b2fa0">)</text><text class="ms" transform="translate(793.79,29.40) scale(1.2,1)" font-size="13.6" fill="#8b2fa0">=</text><text class="ms" x="806.52" y="28.80" font-size="11.5" fill="#8b2fa0">(</text><text class="ms" x="811.10" y="28.60" font-size="10.9" fill="#8b2fa0">6</text><text class="ms" x="817.69" y="28.60" font-size="11.6" fill="#8b2fa0">,</text><text class="ms" x="822.65" y="28.60" font-size="10.9" fill="#8b2fa0">4</text><text class="ms" x="828.55" y="28.80" font-size="11.5" fill="#8b2fa0">)</text>
<path d="M719.1,46.9H745.3" stroke="#ffa000" stroke-width="1.5" fill="none"/>
<text class="ms" x="758.52" y="50.10" font-size="11.5" fill="#ff9a40">(</text><text class="mi" transform="translate(763.09,49.90) scale(1.12,1)" font-size="11.6" fill="#ff9a40">n</text><text class="ms" x="769.99" y="49.90" font-size="11.6" fill="#ff9a40">,</text><text class="mi" transform="translate(775.45,49.90) scale(1.12,1)" font-size="11.6" fill="#ff9a40">m</text><text class="ms" x="786.65" y="50.10" font-size="11.5" fill="#ff9a40">)</text><text class="ms" transform="translate(793.79,50.70) scale(1.2,1)" font-size="13.6" fill="#ff9a40">=</text><text class="ms" x="806.52" y="50.10" font-size="11.5" fill="#ff9a40">(</text><text class="ms" x="811.15" y="49.90" font-size="10.9" fill="#ff9a40">4</text><text class="ms" x="817.69" y="49.90" font-size="11.6" fill="#ff9a40">,</text><text class="ms" x="822.60" y="49.90" font-size="10.9" fill="#ff9a40">6</text><text class="ms" x="828.55" y="50.10" font-size="11.5" fill="#ff9a40">)</text>
<path d="M718.7,68.5H746.9" stroke="#000" stroke-width="1.7" stroke-dasharray="3.7 1.4" fill="none"/>
<text class="mi" transform="translate(757.58,71.30) scale(1.05,1)" font-size="11.6" fill="#2e2e2e">c</text><text class="mi" transform="translate(763.15,73.10) scale(1.55,1)" font-size="8.2" fill="#2e2e2e">m</text><text class="ms" transform="translate(776.64,72.60) scale(1.15,1)" font-size="14.6" fill="#2e2e2e">&gt;</text><text class="ms" transform="translate(789.48,71.30) scale(1.1,1)" font-size="11.7" fill="#2e2e2e">0</text>
<path d="M715.2,87.9H745.6" stroke="#000" stroke-width="1.3" stroke-dasharray="1.5 2.05" fill="none"/>
<text class="mi" transform="translate(757.58,90.80) scale(1.05,1)" font-size="11.6" fill="#2e2e2e">c</text><text class="mi" transform="translate(763.15,92.60) scale(1.55,1)" font-size="8.2" fill="#2e2e2e">m</text><text class="ms" transform="translate(776.66,92.10) scale(1.15,1)" font-size="14.6" fill="#2e2e2e">&lt;</text><text class="ms" transform="translate(789.48,90.80) scale(1.1,1)" font-size="11.7" fill="#2e2e2e">0</text>
<path d="M691.7,145.5L647,145.7" stroke="#000" stroke-width="1.6" fill="none"/>
<path d="M642.8,145.7L650.2,140.9Q647.2,145.7 650.2,150.3Z" fill="#000"/>
<text class="mi" transform="translate(694.92,150.90) scale(1.05,1)" font-size="11.2" fill="#262626">c</text><text class="ms" transform="translate(701.46,152.70) scale(1.05,1)" font-size="7.7" fill="#262626">4</text><text class="mi" transform="translate(707.22,150.90) scale(1.1,1)" font-size="11.9" fill="#262626">ϕ</text><text class="ms" transform="translate(714.36,145.40) scale(1.05,1)" font-size="7.7" fill="#262626">4</text>
<text class="sf" x="725.4" y="149.9" font-size="9.6" fill="#1c3270" stroke="#1c3270" stroke-width="0.25">and</text>
<text class="mi" transform="translate(747.12,150.90) scale(1.05,1)" font-size="11.2" fill="#262626">c</text><text class="ms" transform="translate(753.63,152.70) scale(1.05,1)" font-size="7.7" fill="#262626">6</text><text class="mi" transform="translate(759.42,150.90) scale(1.1,1)" font-size="11.9" fill="#262626">ϕ</text><text class="ms" transform="translate(766.53,145.40) scale(1.05,1)" font-size="7.7" fill="#262626">6</text>
<text class="sf" x="774.1" y="149.9" font-size="9.6" fill="#1c3270" stroke="#1c3270" stroke-width="0.25">comparable</text>
</g>
</svg></body></html>
